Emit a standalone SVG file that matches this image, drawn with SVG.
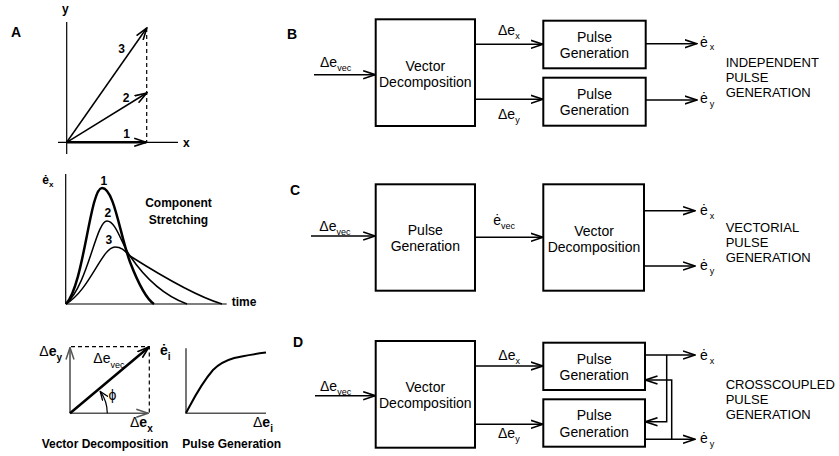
<svg xmlns="http://www.w3.org/2000/svg" width="839" height="456" viewBox="0 0 839 456">
<style>
.ln{stroke:#000;fill:none;stroke-width:1.5}
.thk{stroke:#000;fill:none;stroke-width:2.5}
.ax{stroke:#000;fill:none;stroke-width:1.2}
.gax{stroke:#555;fill:none;stroke-width:1.6}
.dash{stroke:#000;fill:none;stroke-width:1.2;stroke-dasharray:4 3}
.box{fill:#fff;stroke:#000;stroke-width:2}
.t{font-family:"Liberation Sans",Arial,sans-serif;font-size:14px;fill:#000}
.lb{font-family:"Liberation Sans",Arial,sans-serif;font-size:12px;font-weight:bold;fill:#000}
.pl{font-family:"Liberation Sans",Arial,sans-serif;font-size:14px;font-weight:bold;fill:#000}
.cap{font-family:"Liberation Sans",Arial,sans-serif;font-size:13px;fill:#000}
.m{text-anchor:middle}
</style>
<defs>
<marker id="ah" markerUnits="userSpaceOnUse" viewBox="0 0 13 10" markerWidth="13" markerHeight="10" refX="12" refY="5" orient="auto">
<path d="M0,1 L12,5 L0,9" fill="none" stroke="#000" stroke-width="1.6"/>
</marker>
<marker id="ahg" markerUnits="userSpaceOnUse" viewBox="0 0 13 10" markerWidth="13" markerHeight="10" refX="12" refY="5" orient="auto">
<path d="M0,1 L12,5 L0,9" fill="none" stroke="#555" stroke-width="1.5"/>
</marker>
<marker id="ahs" markerUnits="userSpaceOnUse" viewBox="0 0 10 8" markerWidth="10" markerHeight="8" refX="9" refY="4" orient="auto">
<path d="M0,0.5 L9,4 L0,7.5" fill="none" stroke="#000" stroke-width="1.3"/>
</marker>
</defs>
<rect width="839" height="456" fill="#fff"/>

<g id="panelA">
<text class="pl" x="11" y="37">A</text>
<g id="A-vectors">
<path class="ax" d="M66.7,22 V154"/>
<path class="ax" d="M58,142.3 H178"/>
<path class="dash" d="M146.7,28 V142.3"/>
<path class="thk" d="M66.7,142.3 H146.2" marker-end="url(#ah)"/>
<path class="ln" d="M66.7,142.3 L146.7,93" marker-end="url(#ah)"/>
<path class="ln" d="M66.7,142.3 L146.7,28" marker-end="url(#ah)"/>
<text class="lb" x="62" y="12.5">y</text>
<text class="lb" x="183" y="146.7">x</text>
<text class="lb" x="118.3" y="53.3">3</text>
<text class="lb" x="122.7" y="102.3">2</text>
<text class="lb" x="123.3" y="138.3">1</text>
</g>
<g id="A-stretching">
<path class="ax" d="M65.7,174 V304"/>
<path class="ax" d="M65.7,304 H226.7"/>
<path class="thk" d="M66,304 C84,285 90,188 102,188 C114,188 120,235 130,262 C140,288 148,300 154,304"/>
<path class="ln" d="M66,304 C88,285 96,221 107,221 C116,221 122,245 130,256 C145,278 165,296 187,304"/>
<path class="ln" d="M66,304 C90,290 102,247 115,247 C122,247 125,251 130,256 C160,275 195,296 222,304"/>
<text class="lb" x="42.3" y="183.5">ė<tspan font-size="8" dy="3.8">x</tspan></text>
<text class="lb" x="100.5" y="184.5">1</text>
<text class="lb" x="104.5" y="217">2</text>
<text class="lb" x="105.5" y="244">3</text>
<text class="lb m" x="178.5" y="207">Component</text>
<text class="lb m" x="178.5" y="223.5">Stretching</text>
<text class="lb" x="231.7" y="306">time</text>
</g>
<g id="A-decomposition">
<path class="gax" d="M70,413.3 V347.5" marker-end="url(#ahg)"/>
<path class="gax" d="M70,413.3 H148.3" marker-end="url(#ahg)"/>
<path class="dash" d="M71,346.7 H149.3 V413.3"/>
<path class="thk" d="M70,413.3 L149,347" marker-end="url(#ah)"/>
<path class="ax" d="M107.3,413.3 A37.3,37.3 0 0 0 100.2,391.4" marker-end="url(#ahs)"/>
<text class="t" x="39.3" y="356">Δ<tspan font-weight="bold">e</tspan><tspan font-size="10" font-weight="bold" dy="4.5">y</tspan></text>
<text class="t" x="93.3" y="363.3">Δe<tspan font-size="9" dy="5">vec</tspan></text>
<text class="t" x="108.5" y="400">ϕ</text>
<text class="t" x="130" y="427.3">Δ<tspan font-weight="bold">e</tspan><tspan font-size="10" font-weight="bold" dy="4.5">x</tspan></text>
<text class="lb m" x="105" y="448">Vector Decomposition</text>
</g>
<g id="A-pulse">
<path class="gax" d="M186,348.3 V413.3 H266"/>
<path class="ln" style="stroke-width:2" d="M186,413 C192,402 200,385 213,370 C225,358 240,356 266,352.5"/>
<text class="pl" x="160" y="355">ė<tspan font-size="10" dy="5">i</tspan></text>
<text class="t" x="253" y="427.3">Δ<tspan font-weight="bold">e</tspan><tspan font-size="10" font-weight="bold" dy="4.5">i</tspan></text>
<text class="lb m" x="231.7" y="448">Pulse Generation</text>
</g>
</g>

<g id="panelB">
<text class="pl" x="287" y="39">B</text>
<g id="B-vd"><rect class="box" x="375.7" y="19.3" width="99.3" height="106.7"/>
<text class="t m" x="425.3" y="70.5">Vector</text><text class="t m" x="425.3" y="86.5">Decomposition</text></g>
<g id="B-pg1"><rect class="box" x="543.3" y="20.7" width="102.4" height="47.6"/>
<text class="t m" x="594.5" y="41.7">Pulse</text><text class="t m" x="594.5" y="58">Generation</text></g>
<g id="B-pg2"><rect class="box" x="543.3" y="77.7" width="102.4" height="48"/>
<text class="t m" x="594.5" y="98.8">Pulse</text><text class="t m" x="594.5" y="115">Generation</text></g>
<text class="cap" x="725.7" y="66.5">INDEPENDENT</text>
<text class="cap" x="725.7" y="81.6">PULSE</text>
<text class="cap" x="725.7" y="96.7">GENERATION</text>
</g>

<g id="panelC">
<text class="pl" x="290" y="195">C</text>
<g id="C-pg"><rect class="box" x="375.7" y="184.3" width="99.3" height="106.4"/>
<text class="t m" x="425.3" y="235.3">Pulse</text><text class="t m" x="425.3" y="251.3">Generation</text></g>
<g id="C-vd"><rect class="box" x="543.3" y="184.3" width="100.7" height="106.4"/>
<text class="t m" x="594" y="235.7">Vector</text><text class="t m" x="594" y="251.7">Decomposition</text></g>
<text class="cap" x="725.7" y="232">VECTORIAL</text>
<text class="cap" x="725.7" y="247">PULSE</text>
<text class="cap" x="725.7" y="262">GENERATION</text>
</g>

<g id="panelD">
<text class="pl" x="293" y="346.7">D</text>
<g id="D-vd"><rect class="box" x="375.7" y="341" width="99.3" height="106.7"/>
<text class="t m" x="425.3" y="391.8">Vector</text><text class="t m" x="425.3" y="407.8">Decomposition</text></g>
<g id="D-pg1"><rect class="box" x="543.3" y="342.7" width="101.7" height="47.3"/>
<text class="t m" x="594.2" y="363.5">Pulse</text><text class="t m" x="594.2" y="379.8">Generation</text></g>
<g id="D-pg2"><rect class="box" x="543.3" y="399.3" width="101.7" height="47.4"/>
<text class="t m" x="594.2" y="420.3">Pulse</text><text class="t m" x="594.2" y="436.5">Generation</text></g>
<text class="cap" x="725.7" y="389.3">CROSSCOUPLED</text>
<text class="cap" x="725.7" y="404.3">PULSE</text>
<text class="cap" x="725.7" y="419.3">GENERATION</text>
</g>

<g id="connectors">
<path class="ln" d="M314,74.7 H375.2" marker-end="url(#ah)"/>
<path class="ln" d="M475,44.3 H542.8" marker-end="url(#ah)"/>
<path class="ln" d="M475,99.3 H542.8" marker-end="url(#ah)"/>
<path class="ln" d="M645.7,43.7 H696.7" marker-end="url(#ah)"/>
<path class="ln" d="M645.7,100 H696.7" marker-end="url(#ah)"/>
<path class="ln" d="M311,236 H375.2" marker-end="url(#ah)"/>
<path class="ln" d="M475,237.3 H542.8" marker-end="url(#ah)"/>
<path class="ln" d="M644,210.7 H695" marker-end="url(#ah)"/>
<path class="ln" d="M644,266 H695" marker-end="url(#ah)"/>
<path class="ln" d="M315,395.7 H375.2" marker-end="url(#ah)"/>
<path class="ln" d="M475,366 H542.8" marker-end="url(#ah)"/>
<path class="ln" d="M475,424.3 H542.8" marker-end="url(#ah)"/>
<path class="ln" d="M645,355 H695" marker-end="url(#ah)"/>
<path class="ln" d="M645,439.3 H695" marker-end="url(#ah)"/>
<path class="ln" d="M666.7,355 V421.7 H645.5" marker-end="url(#ah)"/>
<path class="ln" d="M671.7,439.3 V380 H645.5" marker-end="url(#ah)"/>
<text class="t" x="320" y="66.7" font-size="15">Δe<tspan font-size="9" dy="4.5">vec</tspan></text>
<text class="t" x="498" y="35" font-size="15">Δe<tspan font-size="9" dy="4.3">x</tspan></text>
<text class="t" x="498" y="118.5" font-size="15">Δe<tspan font-size="9" dy="4.3">y</tspan></text>
<text class="t" x="700" y="46.7" font-size="15">ė<tspan font-size="9" dx="2" dy="3.5">x</tspan></text>
<text class="t" x="700" y="103.3" font-size="15">ė<tspan font-size="9" dx="2" dy="3.5">y</tspan></text>
<text class="t" x="319.3" y="230.5" font-size="15">Δe<tspan font-size="9" dy="4.5">vec</tspan></text>
<text class="t" x="493.3" y="225" font-size="15">ė<tspan font-size="9" dy="4">vec</tspan></text>
<text class="t" x="700" y="215" font-size="15">ė<tspan font-size="9" dx="2" dy="3.5">x</tspan></text>
<text class="t" x="700" y="270" font-size="15">ė<tspan font-size="9" dx="2" dy="3.5">y</tspan></text>
<text class="t" x="320" y="390.5" font-size="15">Δe<tspan font-size="9" dy="4.5">vec</tspan></text>
<text class="t" x="498.3" y="360" font-size="15">Δe<tspan font-size="9" dy="4.3">x</tspan></text>
<text class="t" x="498" y="438" font-size="15">Δe<tspan font-size="9" dy="4.3">y</tspan></text>
<text class="t" x="700" y="360" font-size="15">ė<tspan font-size="9" dx="2" dy="3.5">x</tspan></text>
<text class="t" x="700" y="443.3" font-size="15">ė<tspan font-size="9" dx="2" dy="3.5">y</tspan></text>
</g>
</svg>
